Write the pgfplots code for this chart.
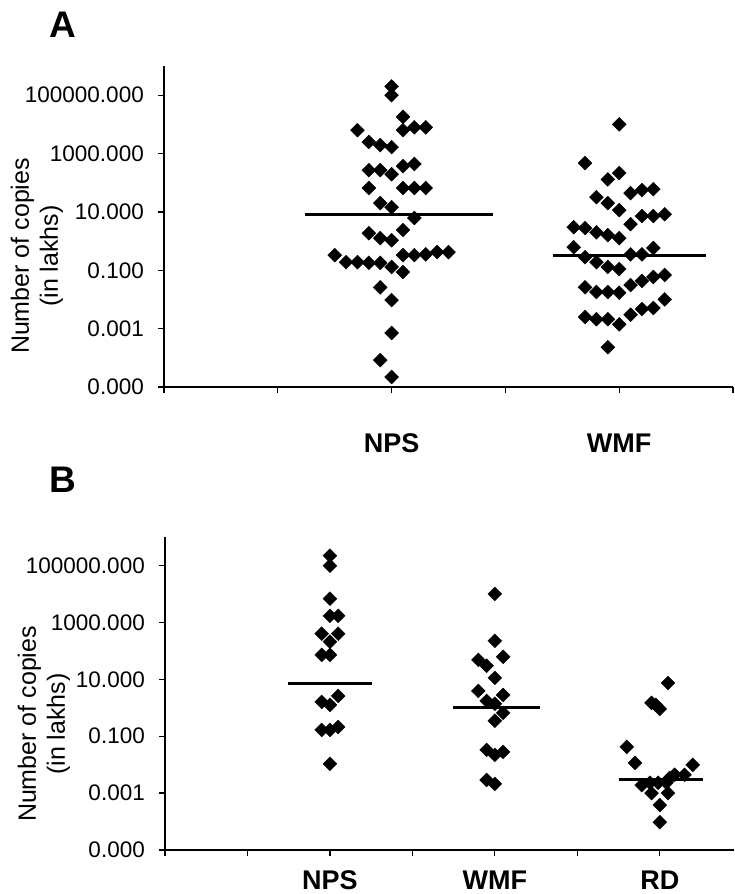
\documentclass[border=0pt]{standalone}
\usepackage{pgfplots}
\usepackage{pgfplotstable}
\pgfplotsset{compat=1.18}
\usepackage{fontspec}
\setmainfont{Liberation Sans}

% Panel A, NPS (x = category position with jitter, y = copies in lakhs)
\pgfplotstableread{
x y
2.0 2.0e5
2.0 1.0e5
2.1 1.8e4
1.7 6.3e3
2.1 6.3e3
2.2 7.9e3
2.3 7.9e3
1.8 2.5e3
1.9 1.95e3
2.0 1.66e3
1.8 270
1.9 270
2.0 195
2.1 370
2.2 440
1.8 66
2.1 66
2.2 66
2.3 66
1.9 20
2.0 14.5
2.2 6.2
2.1 2.4
1.8 1.86
1.9 1.26
2.0 1.07
1.5 0.33
1.6 0.19
1.7 0.19
1.8 0.18
1.9 0.18
2.0 0.13
2.1 0.33
2.2 0.33
2.3 0.35
2.4 0.42
2.5 0.42
2.1 0.087
1.9 0.026
2.0 0.0095
2.0 7.1e-4
1.9 8.3e-5
2.0 2.2e-5
}\npsA

% Panel A, WMF
\pgfplotstableread{
x y
4.0 1.0e4
3.7 470
3.9 130
4.0 215
4.1 44
4.2 56
4.3 60
3.8 32
3.9 20
4.0 11.5
4.2 7.2
4.3 7.2
4.4 8.3
4.1 3.8
3.6 3.0
3.7 2.8
3.8 2.0
3.9 1.6
4.0 1.26
3.6 0.62
4.3 0.58
3.7 0.28
3.8 0.19
3.9 0.13
4.0 0.11
4.1 0.35
4.2 0.35
3.7 0.026
3.8 0.018
3.9 0.018
4.0 0.017
4.1 0.031
4.2 0.043
4.3 0.059
4.4 0.069
3.7 0.0025
3.8 0.0021
3.9 0.0021
4.0 0.0014
4.1 0.0030
4.2 0.0047
4.3 0.0051
4.4 0.010
3.9 2.3e-4
}\wmfA

% Panel B, NPS
\pgfplotstableread{
x y
2.0 2.2e5
2.0 9.8e4
2.0 6.8e3
2.0 1.7e3
2.1 1.7e3
1.9 400
2.1 400
2.0 210
1.9 72
2.0 72
1.9 1.6
2.0 1.26
2.1 2.6
1.9 0.166
2.0 0.166
2.1 0.21
2.0 0.0107
}\npsB

% Panel B, WMF
\pgfplotstableread{
x y
4.0 1.0e4
4.0 224
4.1 62
3.8 48
3.9 30
4.0 11.2
3.8 3.9
4.1 2.8
3.9 1.74
4.0 1.38
4.1 0.66
4.0 0.35
3.9 0.033
4.0 0.022
4.1 0.028
3.9 0.0029
4.0 0.0021
}\wmfB

% Panel B, RD
\pgfplotstableread{
x y
6.1 7.4
5.9 1.48
5.95 1.26
6.0 0.91
5.6 0.042
5.7 0.0115
6.4 0.0098
6.3 0.0044
6.18 0.0044
5.78 0.0019
5.88 0.0023
5.98 0.0023
6.08 0.0023
6.12 0.0034
5.9 0.0010
6.1 0.0010
6.0 3.8e-4
6.0 9.5e-5
}\rdB

\begin{document}
\begin{tikzpicture}[x=1pt,y=1pt]
\path[use as bounding box] (0,0) rectangle (734,894);
% Panel A
\begin{axis}[at={(164pt,507pt)}, anchor=south west, width=569pt, height=321pt,
  scale only axis, ymode=log, ymin=1e-5, ymax=1e6,
  axis x line*=bottom, axis y line*=left,
  axis line style={line width=1.2pt, black},
  ytick={1e-5,1e-3,1e-1,1e1,1e3,1e5},
  yticklabels={0.000,0.001,0.100,10.000,1000.000,100000.000},
  minor tick num=0,
  tick align=outside, major tick length=6pt,
  tick style={line width=1.2pt, black},
  yticklabel style={font=\fontsize{22.5}{26}\selectfont, anchor=east, inner sep=0pt, xshift=-14pt},
  clip=false,
  xmin=0, xmax=5, xtick={0,1,2,3,4,5}, xticklabels={,,NPS,,WMF,},
  xticklabel style={font=\fontsize{27}{30}\selectfont\bfseries, anchor=center, yshift=-50pt}]
\addplot[only marks, mark=square*, mark size=4.9pt, mark options={rotate=45, fill=black, draw=black}] table {\npsA};
\addplot[only marks, mark=square*, mark size=4.9pt, mark options={rotate=45, fill=black, draw=black}] table {\wmfA};
\addplot[black, line width=2.8pt] coordinates {(1.24,8.3) (2.89,8.3)};
\addplot[black, line width=2.8pt] coordinates {(3.42,0.33) (4.76,0.33)};
\end{axis}
% Panel B
\begin{axis}[at={(165pt,44pt)}, anchor=south west, width=569pt, height=313pt,
  scale only axis, ymode=log, ymin=1e-5, ymax=1e6,
  axis x line*=bottom, axis y line*=left,
  axis line style={line width=1.2pt, black},
  ytick={1e-5,1e-3,1e-1,1e1,1e3,1e5},
  yticklabels={0.000,0.001,0.100,10.000,1000.000,100000.000},
  minor tick num=0,
  tick align=outside, major tick length=6pt,
  tick style={line width=1.2pt, black},
  yticklabel style={font=\fontsize{22.5}{26}\selectfont, anchor=east, inner sep=0pt, xshift=-14pt},
  clip=false,
  xmin=0, xmax=6.9, xtick={0,1,2,3,4,5,6}, xticklabels={,,NPS,,WMF,,RD},
  xticklabel style={font=\fontsize{27}{30}\selectfont\bfseries, anchor=center, yshift=-24pt}]
\addplot[only marks, mark=square*, mark size=4.9pt, mark options={rotate=45, fill=black, draw=black}] table {\npsB};
\addplot[only marks, mark=square*, mark size=4.9pt, mark options={rotate=45, fill=black, draw=black}] table {\wmfB};
\addplot[only marks, mark=square*, mark size=4.9pt, mark options={rotate=45, fill=black, draw=black}] table {\rdB};
\addplot[black, line width=2.8pt] coordinates {(1.49,6.9) (2.51,6.9)};
\addplot[black, line width=2.8pt] coordinates {(3.49,1.0) (4.55,1.0)};
\addplot[black, line width=2.8pt] coordinates {(5.5,0.0031) (6.52,0.0031)};
\end{axis}
\node[font=\fontsize{37}{40}\selectfont\bfseries] at (63,869) {A};
\node[font=\fontsize{37}{40}\selectfont\bfseries] at (63,414) {B};
\node[rotate=90, align=center, font=\fontsize{25}{29}\selectfont] at (37,638) {Number of copies\\(in lakhs)};
\node[rotate=90, align=center, font=\fontsize{25}{29}\selectfont] at (44,170) {Number of copies\\(in lakhs)};
\end{tikzpicture}
\end{document}
